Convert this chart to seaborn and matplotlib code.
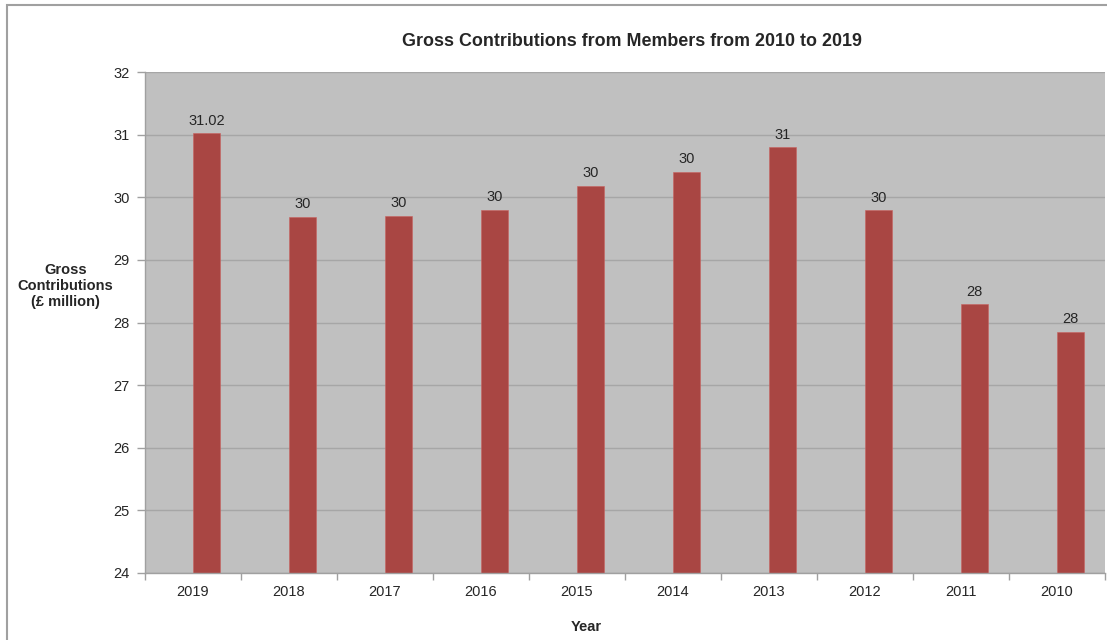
import numpy as np
import pandas as pd
import matplotlib
matplotlib.use("Agg")
import matplotlib.pyplot as plt
from matplotlib.patches import Rectangle
import seaborn as sns

# datos
years = ["2019", "2018", "2017", "2016", "2015", "2014", "2013", "2012", "2011", "2010"]
contributions = [31.02, 29.69, 29.70, 29.80, 30.18, 30.41, 30.80, 29.79, 28.29, 27.85]
empty_series = [0, 0, 0, 0, 0, 0, 0, 0, 0, 0]
value_labels = ["31.02", "30", "30", "30", "30", "30", "31", "30", "28", "28"]

df = pd.DataFrame({
    "Year": years * 2,
    "Value": empty_series + contributions,
    "Series": ["empty"] * len(years) + ["contrib"] * len(years),
})

sns.set_style("white")
plt.rcParams["font.family"] = ["Liberation Sans", "DejaVu Sans"]

fig = plt.figure(figsize=(11.07, 6.4), dpi=100)
ax = fig.add_axes([145 / 1107, 1 - 573 / 640, 960 / 1107, 501 / 640])

sns.barplot(data=df, x="Year", y="Value", hue="Series", hue_order=["empty", "contrib"],
            order=years, palette={"empty": "#E8B0AE", "contrib": "#A94643"},
            width=0.5625, dodge=True, ax=ax, legend=False, saturation=1,
            edgecolor="#C9625F", linewidth=0.4)

ax.set_ylim(24, 32)
ax.set_xlim(-0.5, len(years) - 0.5)
ax.set_facecolor("#C0C0C0")
ax.set_yticks(range(24, 33))
ax.tick_params(axis="y", labelsize=10.5, length=6, color="#A0A0A0", width=1, pad=5, left=True)
ax.set_xticks(range(len(years)))
ax.set_xticklabels(years)
ax.tick_params(axis="x", which="major", length=0, labelsize=10.5, pad=9)
ax.set_xticks(np.arange(-0.5, len(years)), minor=True)
ax.tick_params(axis="x", which="minor", length=5, color="#A0A0A0", width=1, bottom=True)

ax.grid(axis="y", color="#A6A6A6", linewidth=1)
ax.set_axisbelow(True)
for side in ["top", "right"]:
    ax.spines[side].set_visible(False)
for side in ["left", "bottom"]:
    ax.spines[side].set_color("#A0A0A0")
    ax.spines[side].set_linewidth(1)

ax.bar_label(ax.containers[1], labels=value_labels, padding=4, fontsize=10.5)

ax.set_title("Gross Contributions from Members from 2010 to 2019",
             fontsize=12.9, fontweight="bold", pad=19, x=0.507)
ax.set_ylabel("Gross\nContributions\n(£ million)", rotation=0, fontsize=10.5,
              fontweight="bold", ha="center", va="center", linespacing=1.2)
ax.yaxis.set_label_coords(-0.083, 0.573)
ax.set_xlabel("Year", fontsize=10.5, fontweight="bold")
ax.xaxis.set_label_coords(0.46, -0.094)

# marco exterior del grafico
fig.patches.append(Rectangle((7 / 1107, -0.02), 1.05, 0.992 + 0.02,
                             transform=fig.transFigure, fill=False,
                             edgecolor="#A0A0A0", linewidth=1.5))

fig.savefig("out.png", dpi=100)
